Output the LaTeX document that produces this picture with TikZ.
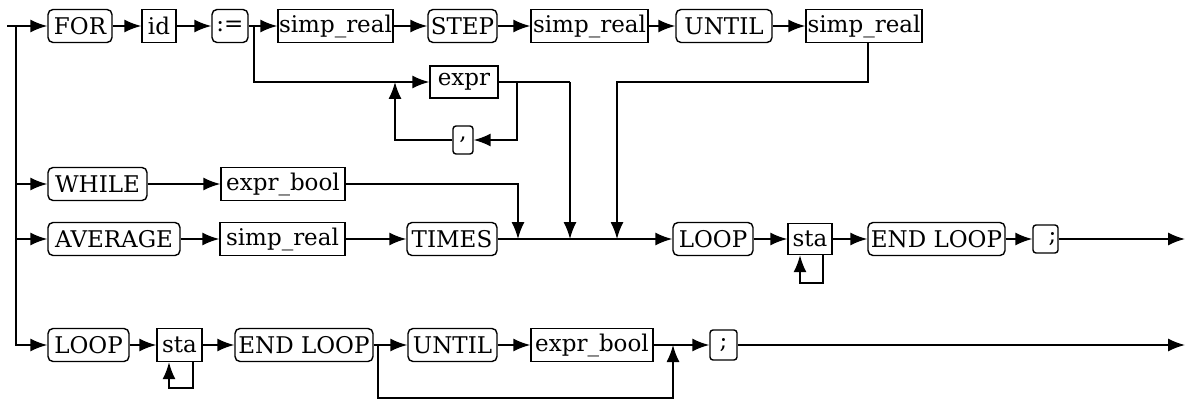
\documentclass[tikz,border=0pt]{standalone}
\usepackage{fontspec}
\setmainfont{DejaVu Serif}
\usetikzlibrary{arrows.meta}
\begin{document}
\begin{tikzpicture}[x=1pt,y=-1pt,
  base/.style={draw,line width=1.4pt,inner sep=0pt,minimum height=33pt,
    font=\fontsize{23}{23}\selectfont},
  term/.style={base,rounded corners=5pt},
  nonterm/.style={base},
  conn/.style={line width=1.6pt},
  arr/.style={conn,-{Latex[length=17pt,width=13pt]}}]
\useasboundingbox (0,0) rectangle (1186,401);
% row 1
\node[term,minimum width=64pt] (for) at (80,26) {FOR};
\node[nonterm,minimum width=34pt] (id) at (159,26) {id};
\node[term,minimum width=36pt] (assign) at (230,26) {:=};
\node[nonterm,minimum width=115pt] (sr1) at (335.5,26) {simp\_real};
\node[term,minimum width=69pt] (step) at (462.5,26) {STEP};
\node[nonterm,minimum width=117pt] (sr2) at (589.5,26) {simp\_real};
\node[term,minimum width=96pt] (until1) at (724,26) {UNTIL};
\node[nonterm,minimum width=116pt] (sr3) at (864,26) {simp\_real};
% expr loop
\node[nonterm,minimum width=68pt,minimum height=32pt] (expr) at (464,82) {expr};
\node[term,minimum width=20pt,minimum height=28pt,rounded corners=3pt] (comma) at (463,140) {,};
% while
\node[term,minimum width=99pt] (while) at (97.5,184) {WHILE};
\node[nonterm,minimum width=124pt] (eb1) at (283,184) {expr\_bool};
% average
\node[term,minimum width=132pt] (average) at (114,239) {AVERAGE};
\node[nonterm,minimum width=125pt] (sr4) at (282.5,239) {simp\_real};
\node[term,minimum width=90pt] (times) at (452,239) {TIMES};
\node[term,minimum width=80pt] (loop1) at (713,239) {LOOP};
\node[nonterm,minimum width=44pt,minimum height=31pt] (sta1) at (810,239) {sta};
\node[term,minimum width=137pt] (endloop1) at (936.5,239) {END LOOP};
\node[term,minimum width=25pt,minimum height=28pt,rounded corners=3pt] (semi1) at (1045.5,239) {\hspace*{14pt};};
% row 5
\node[term,minimum width=81pt] (loop2) at (88.5,345) {LOOP};
\node[nonterm,minimum width=45pt] (sta2) at (179.5,345) {sta};
\node[term,minimum width=138pt] (endloop2) at (304,345) {END LOOP};
\node[term,minimum width=89pt] (until2) at (452.5,345) {UNTIL};
\node[nonterm,minimum width=122pt] (eb2) at (592,345) {expr\_bool};
\node[term,minimum width=27pt,minimum height=30pt,rounded corners=3pt] (semi2) at (723.5,345) {;};
% coordinates
\coordinate (start) at (7,26);
\coordinate (j0) at (16,26);
\coordinate (j1) at (254,26);
\coordinate (jl) at (395,82);
\coordinate (jr) at (517,82);
\coordinate (je) at (570,82);
\coordinate (m1) at (518,239);
\coordinate (m2) at (570,239);
\coordinate (m3) at (617,239);
\coordinate (end1) at (1185,239);
\coordinate (end2) at (1185,345);
\coordinate (jeu) at (378,345);
\coordinate (jeb) at (673,345);
% row 1 connectors
\draw[arr] (start) -- (for);
\draw[arr] (for) -- (id);
\draw[arr] (id) -- (assign);
\draw[arr] (assign) -- (sr1);
\draw[arr] (sr1) -- (step);
\draw[arr] (step) -- (sr2);
\draw[arr] (sr2) -- (until1);
\draw[arr] (until1) -- (sr3);
% expr branch
\draw[arr] (j1) |- (expr);
\draw[conn] (expr) -- (je);
\draw[arr] (je) -- (m2);
\draw[arr] (jr) |- (comma);
\draw[arr] (comma) -| (jl);
\draw[arr] ([xshift=4pt]sr3.south) |- (617,82) -- (m3);
% left trunk
\draw[conn] (j0) -- (16,300);
\draw[arr] (16,184) -- (while);
\draw[arr] (16,239) -- (average);
\draw[arr] (16,290) |- (loop2);
% while row
\draw[arr] (while) -- (eb1);
\draw[arr] (eb1) -| (m1);
% average row
\draw[arr] (average) -- (sr4);
\draw[arr] (sr4) -- (times);
\draw[arr] (times) -- (loop1);
\draw[arr] (loop1) -- (sta1);
\draw[arr] ([xshift=13pt]sta1.south) |- (800,283) -- ([xshift=-10pt]sta1.south);
\draw[arr] (sta1) -- (endloop1);
\draw[arr] (endloop1) -- (semi1);
\draw[arr] (semi1) -- (end1);
% row 5
\draw[arr] (loop2) -- (sta2);
\draw[arr] ([xshift=13.5pt]sta2.south) |- (169,388) -- ([xshift=-10.5pt]sta2.south);
\draw[arr] (sta2) -- (endloop2);
\draw[arr] (endloop2) -- (until2);
\draw[arr] (jeu) |- (673,398) -- (jeb);
\draw[arr] (until2) -- (eb2);
\draw[arr] (eb2) -- (semi2);
\draw[arr] (semi2) -- (end2);
\end{tikzpicture}
\end{document}
